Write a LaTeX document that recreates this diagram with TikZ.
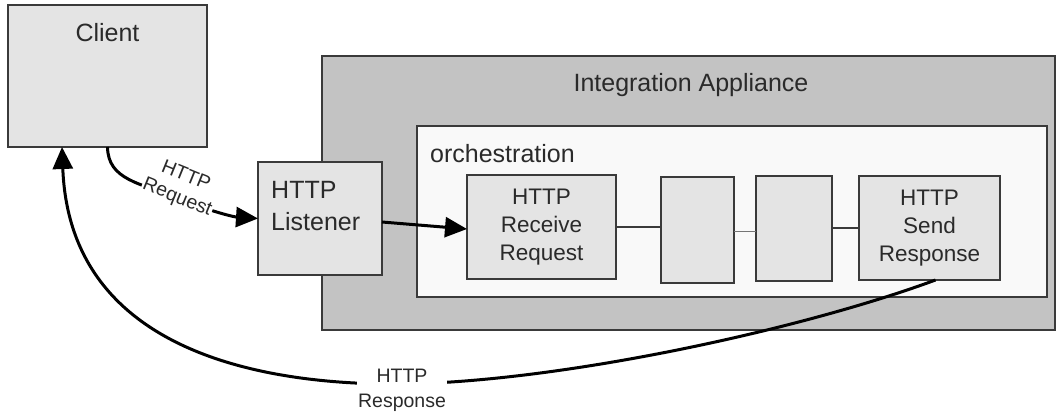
\documentclass[tikz,border=0pt]{standalone}
\usepackage{fontspec}
\setmainfont{Liberation Sans}
\usetikzlibrary{arrows.meta}
\definecolor{txt}{HTML}{2A2A2A}
\definecolor{edge}{HTML}{3A3A3A}
\definecolor{boxfill}{HTML}{E4E4E4}
\definecolor{appfill}{HTML}{C3C3C3}
\definecolor{orchfill}{HTML}{F9F9F9}
\begin{document}
\begin{tikzpicture}[x=1pt,y=-1pt,
  box/.style={draw=edge, line width=1.5pt, fill=boxfill, rectangle, inner sep=0pt, outer sep=0pt},
  bigtxt/.style={text=txt, font=\fontsize{25}{32}\selectfont, inner sep=0pt},
  midtxt/.style={text=txt, font=\fontsize{22.5}{28}\selectfont, align=center},
  smalltxt/.style={text=txt, font=\fontsize{19.5}{25}\selectfont},
  heavy/.style={line width=3pt, draw=black},
  tip/.style={-{Triangle[length=22pt,width=20pt]}},
  link/.style={line width=1.2pt, draw=edge}]
\useasboundingbox (0,0) rectangle (1057,412);
\fill[white] (0,0) rectangle (1057,412);

% containers
\node[box, minimum width=199pt, minimum height=142pt] (client) at (107.5,76) {};
\node[bigtxt, anchor=base] (clienttxt) at (107.5,42) {Client};

\node[box, fill=appfill, minimum width=733pt, minimum height=274pt] (app) at (688.5,193) {};
\node[bigtxt, anchor=base] (apptxt) at (691,91) {Integration Appliance};

\node[box, fill=orchfill, minimum width=630pt, minimum height=171pt] (orch) at (732,211.5) {};
\node[bigtxt, anchor=base west] (orchtxt) at (430,162) {orchestration};

\node[box, minimum width=124pt, minimum height=113pt] (listener) at (320,218.5) {};
\node[bigtxt, anchor=base west, align=left] (listtxt) at (271,230) {HTTP\\Listener};

\node[box, midtxt, minimum width=149pt, minimum height=104pt] (receive) at (541.5,227) {HTTP\\Receive\\Request};
\node[box, minimum width=73pt, minimum height=106pt] (boxb) at (697.5,230) {};
\node[box, minimum width=76pt, minimum height=105pt] (boxc) at (794,228.5) {};
\node[box, midtxt, minimum width=141pt, minimum height=104pt] (send) at (929.5,228) {HTTP\\Send\\Response};

% links between steps
\draw[link] (receive.east) -- (receive.east -| boxb.west);
\draw[link, draw=edge!70] ([yshift=-1.5pt]boxb.east) -- ([yshift=-1.5pt]boxb.east -| boxc.west);
\draw[link] (send.west -| boxc.east) -- (send.west);

% listener -> receive
\draw[heavy, tip] ([yshift=-3.5pt]listener.east) -- ([yshift=-2pt]receive.west);

% request
\coordinate (rq) at (177,198);
\draw[heavy, tip] (client.south) .. controls (108,180) and (140,183) .. (rq)
  node[sloped, pos=1, fill=white, inner sep=1pt, smalltxt] (reqlbl) {Request}
  node[sloped, pos=1, above=16pt, inner sep=1pt, smalltxt] (reqlbl2) {HTTP}
  .. controls (215,213) and (235,217) .. (listener.west);

% response
\coordinate (rjoin) at (402,384);
\draw[heavy, tip] ([xshift=6pt]send.south) .. controls (800,330) and (560,382) .. (rjoin)
  .. controls (280,385) and (70,360) .. ([xshift=-45.5pt]client.south);
\node[smalltxt, align=center, fill=white, inner sep=1pt] (resplbl) at (402,390) {HTTP\\Response};
\end{tikzpicture}
\end{document}
